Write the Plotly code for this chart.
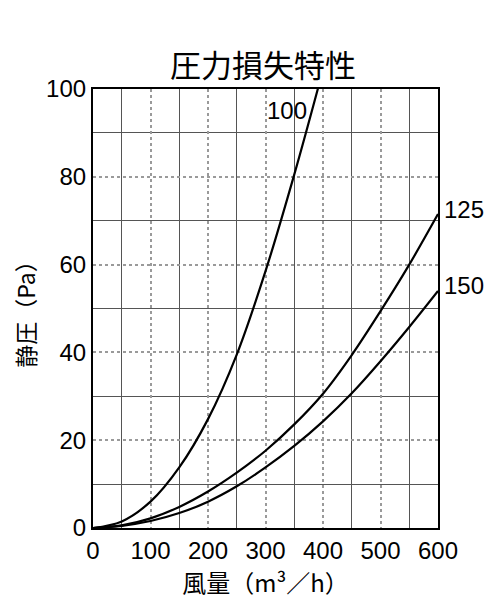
import plotly.graph_objects as go

# Air flow (m3/h) and static pressure (Pa) for each duct size
x_100 = [0, 50, 100, 150, 200, 250, 300, 350, 392]
y_100 = [0, 1.5, 6.0, 13.8, 24.8, 39.5, 58.5, 80.5, 100.5]

x_125 = [0, 50, 100, 150, 200, 250, 300, 350, 400, 450, 500, 550, 600]
y_125 = [0, 0.6, 2.2, 4.8, 8.3, 12.6, 17.6, 23.6, 30.6, 39.4, 49.4, 60.0, 71.5]

x_150 = [0, 50, 100, 150, 200, 250, 300, 350, 400, 450, 500, 550, 600]
y_150 = [0, 0.5, 1.6, 3.4, 6.0, 9.5, 13.8, 18.7, 24.3, 30.7, 38.0, 45.8, 54.0]

series_names = ["100", "125", "150"]

FONT = "Liberation Sans, Arial, Noto Sans CJK JP, sans-serif"
CJK = "Noto Sans CJK JP, sans-serif"

W, H = 492, 602

fig = go.Figure()
for name, xs, ys in [(series_names[0], x_100, y_100),
                     (series_names[1], x_125, y_125),
                     (series_names[2], x_150, y_150)]:
    fig.add_trace(go.Scatter(x=xs, y=ys, mode="lines", name=name,
                             line=dict(color="black", width=2.2, shape="spline", smoothing=1.0),
                             showlegend=False, hoverinfo="skip"))

# curve labels
fig.add_annotation(x=x_100[-1], y=100, xref="x", yref="y", text=series_names[0],
                   showarrow=False, xanchor="right", yanchor="top",
                   xshift=-9, yshift=-6, font=dict(family=FONT, size=24, color="black"))
fig.add_annotation(x=x_125[-1], y=y_125[-1], xref="x", yref="y", text=series_names[1],
                   showarrow=False, xanchor="left", yanchor="middle",
                   xshift=4, yshift=5, font=dict(family=FONT, size=24, color="black"))
fig.add_annotation(x=x_150[-1], y=y_150[-1], xref="x", yref="y", text=series_names[2],
                   showarrow=False, xanchor="left", yanchor="middle",
                   xshift=4, yshift=5, font=dict(family=FONT, size=24, color="black"))

fig.update_layout(
    width=W, height=H,
    margin=dict(l=85, r=62, t=81, b=82, autoexpand=False),
    paper_bgcolor="white", plot_bgcolor="white",
    title=dict(text="圧力損失特性", x=255 / W, xanchor="center", y=1 - 58 / H,
               yanchor="middle", yref="container",
               font=dict(family=CJK, size=31, color="black")),
    xaxis=dict(range=[0, 600], dtick=100, tick0=0, showgrid=True,
               gridcolor="#9a9a9a", gridwidth=1.5, griddash="dot",
               minor=dict(dtick=50, showgrid=True, gridcolor="#555555",
                          gridwidth=1.4, griddash="solid"),
               showline=True, linecolor="black", linewidth=2.2, mirror=True,
               ticks="", zeroline=False, automargin=False,
               tickfont=dict(family=FONT, size=24, color="black"),
               title=dict(text="風量（m³／h）", standoff=2,
                          font=dict(family=CJK, size=24, color="black"))),
    yaxis=dict(range=[0, 100], dtick=20, tick0=0, showgrid=True,
               gridcolor="#9a9a9a", gridwidth=1.5, griddash="dot",
               minor=dict(dtick=10, showgrid=True, gridcolor="#555555",
                          gridwidth=1.4, griddash="solid"),
               showline=True, linecolor="black", linewidth=2.2, mirror=True,
               ticks="", zeroline=False, automargin=False,
               tickfont=dict(family=FONT, size=24, color="black"),
               title=dict(text="静圧（Pa）", standoff=5,
                          font=dict(family=CJK, size=23, color="black"))),
)

fig.write_html("out.html")
